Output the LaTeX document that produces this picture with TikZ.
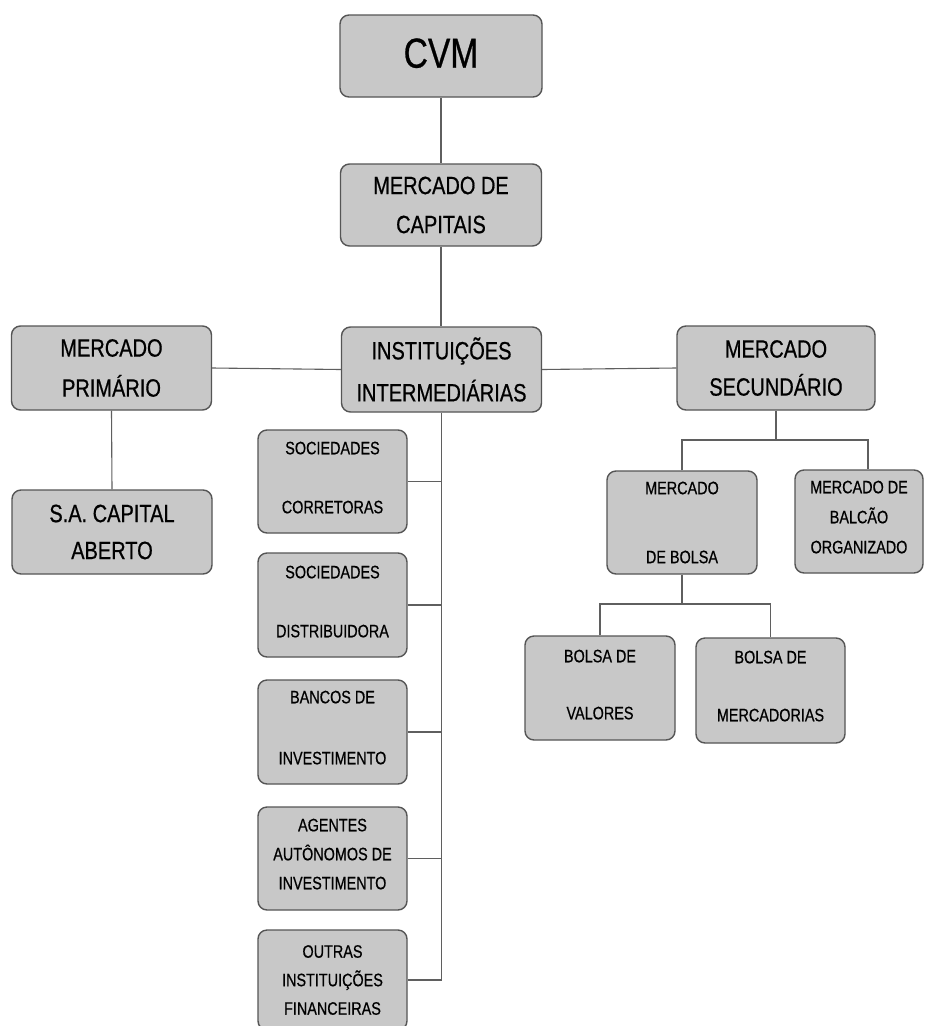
\documentclass[tikz,border=0pt]{standalone}
\usepackage{fontspec}
\setmainfont{Liberation Sans}[FakeStretch=0.8, FakeBold=0.6]
\definecolor{boxfill}{RGB}{200,200,200}
\definecolor{boxline}{RGB}{85,85,85}
\definecolor{connline}{RGB}{95,95,95}
\begin{document}
\begin{tikzpicture}[x=1pt,y=-1pt,
  box/.style={draw=boxline, fill=boxfill, line width=1.4pt, rounded corners=9pt,
    align=center, inner sep=0pt},
  bigtxt/.style={font=\fontsize{25}{#1}\selectfont},
  smalltxt/.style={font=\fontsize{18}{#1}\selectfont},
  conn/.style={draw=connline, line width=1.1pt}]
\useasboundingbox (0,0) rectangle (926,1026);
\fill[white] (0,0) rectangle (926,1026);

% top chain
\node[box, minimum width=202pt, minimum height=82pt, font=\fontsize{42}{42}\selectfont, text depth=6pt] (cvm) at (441,56) {CVM};
\node[box, minimum width=201pt, minimum height=82pt, bigtxt=39] (mc) at (441,205) {MERCADO DE\\CAPITAIS};
\node[box, minimum width=200pt, minimum height=84pt, bigtxt=40] (mp) at (111.5,368) {MERCADO\\PRIMÁRIO};
\node[box, minimum width=200pt, minimum height=85pt, bigtxt=42] (inst) at (441.5,369.5) {INSTITUIÇÕES\\INTERMEDIÁRIAS};
\node[box, minimum width=198pt, minimum height=84pt, bigtxt=38] (ms) at (776,368) {MERCADO\\SECUNDÁRIO};
\node[box, minimum width=200pt, minimum height=84pt, bigtxt=37] (sa) at (112,532) {S.A. CAPITAL\\ABERTO};

% intermediaries column
\node[box, minimum width=149pt, minimum height=103pt, smalltxt=59, text depth=8pt] (sc) at (332.5,481.5) {SOCIEDADES\\CORRETORAS};
\node[box, minimum width=149pt, minimum height=104pt, smalltxt=59, text depth=7pt] (sd) at (332.5,605) {SOCIEDADES\\DISTRIBUIDORA};
\node[box, minimum width=149pt, minimum height=104pt, smalltxt=61, text depth=9pt] (bi) at (332.5,732) {BANCOS DE\\INVESTIMENTO};
\node[box, minimum width=149pt, minimum height=103pt, smalltxt=29, text depth=9pt] (aai) at (332.5,858.5) {AGENTES\\AUTÔNOMOS DE\\INVESTIMENTO};
\node[box, minimum width=149pt, minimum height=100pt, smalltxt=28.5] (oif) at (332.5,980) {OUTRAS\\INSTITUIÇÕES\\FINANCEIRAS};

% secondary market subtree
\node[box, minimum width=150pt, minimum height=103pt, smalltxt=69] (mb) at (682,522.5) {MERCADO\\DE BOLSA};
\node[box, minimum width=128pt, minimum height=103pt, smalltxt=30, text depth=9pt] (mbo) at (859,521.5) {MERCADO DE\\BALCÃO\\ORGANIZADO};
\node[box, minimum width=150pt, minimum height=104pt, smalltxt=57, text depth=7pt] (bv) at (600,688) {BOLSA DE\\VALORES};
\node[box, minimum width=149pt, minimum height=105pt, smalltxt=58, text depth=9pt] (bm) at (770.5,690.5) {BOLSA DE\\MERCADORIAS};

% junction points
\coordinate (j1) at (683,440);
\coordinate (j2) at (868,440);
\coordinate (j3) at (600,604);

% connectors
\draw[conn] (cvm.south) -- (mc.north);
\draw[conn] (mc.south) -- (mc.south |- inst.north);
\draw[conn] (mp.east) -- (inst.west);
\draw[conn] (inst.east) -- (ms.west);
\draw[conn] (mp.south) -- (sa.north);

\draw[conn] (ms.south) -- (ms.south |- j1);
\draw[conn] (mb.north) -- (mb.north |- j1) -- (j2) -- (j2 |- mbo.north);
\draw[conn] (mb.south) -- (mb.south |- j3);
\draw[conn] (bv.north) -- (j3) -- (bm.north |- j3) -- (bm.north);

\draw[conn] (inst.south) -- (inst.south |- oif.east);
\foreach \n in {sc,sd,bi,aai,oif}
  \draw[conn] (\n.east) -- (\n.east -| inst.south);
\end{tikzpicture}
\end{document}
